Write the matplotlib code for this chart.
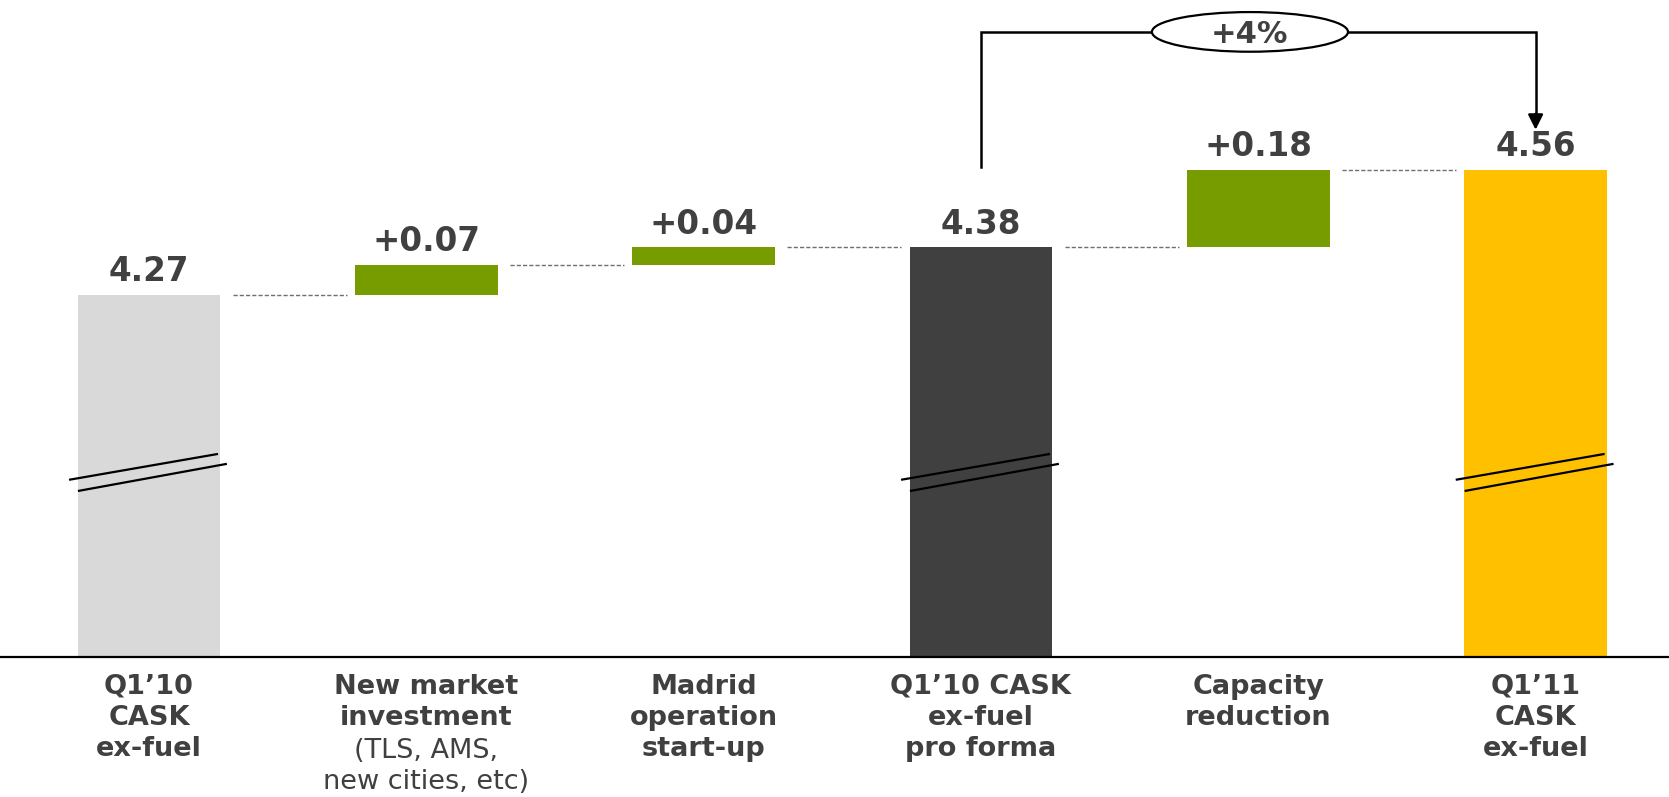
import matplotlib
matplotlib.use("Agg")
import matplotlib.pyplot as plt
from matplotlib.patches import Ellipse

# Waterfall data: CASK ex-fuel bridge Q1'10 -> Q1'11
categories_bold = ["Q1\u201910\nCASK\nex-fuel", "New market\ninvestment", "Madrid\noperation\nstart-up",
                   "Q1\u201910 CASK\nex-fuel\npro forma", "Capacity\nreduction", "Q1\u201911\nCASK\nex-fuel"]
category_notes = ["", "(TLS, AMS,\nnew cities, etc)", "", "", "", ""]
values = [4.27, 0.07, 0.04, 4.38, 0.18, 4.56]
is_total = [True, False, False, True, False, True]
value_labels = ["4.27", "+0.07", "+0.04", "4.38", "+0.18", "4.56"]
change_label = "+4%"

colors = ["#D9D9D9", "#779C00", "#779C00", "#404040", "#779C00", "#FFC000"]
text_color = "#404040"
axis_floor = 3.43

plt.rcParams["font.family"] = ["DejaVu Sans"]

fig = plt.figure(figsize=(16.69, 7.97), dpi=100)
ax = fig.add_axes([0, 0.1757, 1, 0.8243])
ax.set_xlim(-0.537, 5.481)
ax.set_ylim(axis_floor, 4.954)

width = 0.514
x = list(range(len(values)))

# compute bar bottoms/tops
bottoms, tops = [], []
running = 0.0
for v, tot in zip(values, is_total):
    if tot:
        bottoms.append(axis_floor)
        tops.append(v)
        running = v
    else:
        bottoms.append(running)
        running = running + v
        tops.append(running)

heights = [t - b for t, b in zip(tops, bottoms)]
ax.bar(x, heights, bottom=bottoms, width=width, color=colors, edgecolor="none", zorder=2)

# value labels
for xi, t, lab in zip(x, tops, value_labels):
    ax.annotate(lab, xy=(xi, t), xytext=(0, 10), textcoords="offset points",
                ha="center", va="baseline", fontsize=23.5, fontweight="bold", color=text_color)

# dashed connectors between consecutive bars
for i in range(len(values) - 1):
    level = tops[i]
    ax.plot([x[i] + width / 2 + 0.045, x[i + 1] - width / 2 - 0.03], [level, level],
            color="#6F6F6F", lw=1.0, linestyle=(0, (3, 1.5)), zorder=1)

# axis-break marks on the total bars
for xi, tot in zip(x, is_total):
    if tot:
        ax.plot([xi - 0.288, xi + 0.249], [3.841, 3.901], color="black", lw=1.6, zorder=3,
                solid_capstyle="butt")
        ax.plot([xi - 0.256, xi + 0.281], [3.815, 3.878], color="black", lw=1.6, zorder=3,
                solid_capstyle="butt")

# category labels
cat_size = 19.5
pitch = 23.0  # points between label lines
for xi, lab, note in zip(x, categories_bold, category_notes):
    ax.annotate(lab, xy=(xi, 0), xycoords=("data", "axes fraction"), xytext=(0, -12),
                textcoords="offset points", ha="center", va="top", fontsize=cat_size,
                fontweight="bold", color=text_color, linespacing=1.27)
    if note:
        ax.annotate(note, xy=(xi, 0), xycoords=("data", "axes fraction"), xytext=(0, -12 - 2 * pitch),
                    textcoords="offset points", ha="center", va="top", fontsize=cat_size,
                    color=text_color, linespacing=1.27)

# growth bracket from pro forma to Q1'11
x0, x1 = x[3], x[5]
y_top = 4.880
ax.plot([x0, x0, x1, x1], [tops[3] + 0.187, y_top, y_top, tops[5] + 0.12],
        color="black", lw=1.8, zorder=3, solid_joinstyle="miter")
ax.annotate("", xy=(x1, tops[5] + 0.093), xytext=(x1, tops[5] + 0.13),
            arrowprops=dict(arrowstyle="-|>,head_length=0.9,head_width=0.45", color="black", lw=1.8,
                            shrinkA=0, shrinkB=0), zorder=4)
ell = Ellipse((3.97, y_top), width=0.707, height=0.092, facecolor="white", edgecolor="black",
              lw=1.6, zorder=5)
ax.add_patch(ell)
ax.text(3.97, y_top, change_label, ha="center", va="center_baseline", fontsize=22,
        fontweight="bold", color=text_color, zorder=6)

for s in ["top", "left", "right"]:
    ax.spines[s].set_visible(False)
ax.spines["bottom"].set_linewidth(1.6)
ax.spines["bottom"].set_color("black")
ax.set_xticks([])
ax.set_yticks([])

fig.savefig("out.png", dpi=100)
